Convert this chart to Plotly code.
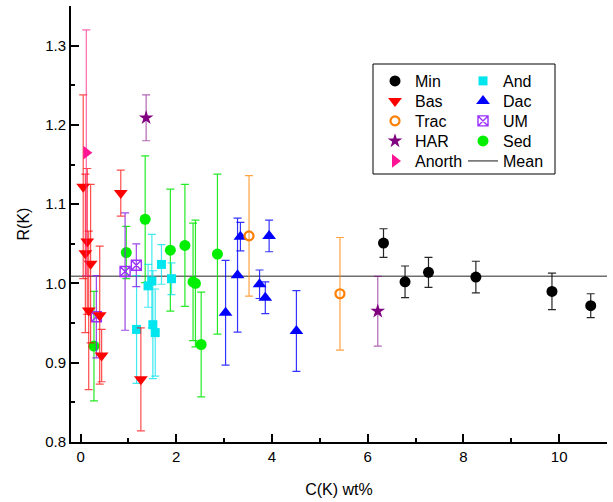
import plotly.graph_objects as go

# ---- data ----
min_x = [6.33, 6.78, 7.27, 8.26, 9.85, 10.66]
min_y = [1.051, 1.002, 1.014, 1.008, 0.990, 0.972]
min_e = [0.018, 0.020, 0.019, 0.020, 0.023, 0.015]

bas_x = [0.055, 0.14, 0.10, 0.21, 0.17, 0.40, 0.44, 0.84, 1.26]
bas_y = [1.122, 1.053, 1.038, 1.025, 0.966, 0.960, 0.909, 1.114, 0.879]
bas_e = [0.116, 0.092, 0.100, 0.100, 0.100, 0.087, 0.033, 0.029, 0.065]

trac_x = [3.52, 5.42]
trac_y = [1.060, 0.987]
trac_e = [0.076, 0.071]

har_x = [1.37, 6.21]
har_y = [1.209, 0.965]
har_e = [0.029, 0.044]

anorth_x = [0.12]
anorth_y = [1.165]
anorth_e = [0.155]

and_x = [1.17, 1.41, 1.49, 1.51, 1.56, 1.69, 1.90]
and_y = [0.942, 0.997, 1.003, 0.948, 0.938, 1.024, 1.006]
and_e = [0.068, 0.027, 0.059, 0.068, 0.055, 0.025, 0.020]

dac_x = [3.03, 3.28, 3.34, 3.74, 3.86, 3.94, 4.51]
dac_y = [0.963, 1.0105, 1.059, 0.999, 0.982, 1.060, 0.940]
dac_e = [0.066, 0.072, 0.018, 0.018, 0.020, 0.020, 0.051]

um_x = [0.33, 0.93, 1.165]
um_y = [0.958, 1.015, 1.023]
um_e = [0.052, 0.074, 0.027]

sed_x = [0.28, 0.955, 1.35, 1.876, 2.18, 2.35, 2.40, 2.52, 2.86]
sed_y = [0.921, 1.039, 1.081, 1.042, 1.048, 1.002, 1.000, 0.923, 1.037]
sed_e = [0.069, 0.033, 0.080, 0.077, 0.077, 0.074, 0.080, 0.066, 0.101]

mean_value = 1.009
x_range = [-0.2, 11]
y_range = [0.8, 1.35]

FONT = "Arial, Liberation Sans, sans-serif"
W, H = 613, 502
ML, MR, MT, MB = 71, 6, 6, 60
PW, PH = W - ML - MR, H - MT - MB


def px2x(px):
    return (px - ML) / PW


def px2y(py):
    return 1 - (py - MT) / PH


# legend layout: (column x px, row y px)
COLS = [375, 463]
ROWS = [81, 101, 121, 141, 161]
legend_slots = {
    "Min": (0, 0), "And": (1, 0),
    "Bas": (0, 1), "Dac": (1, 1),
    "Trac": (0, 2), "UM": (1, 2),
    "HAR": (0, 3), "Sed": (1, 3),
    "Anorth": (0, 4), "Mean": (1, 4),
}
legend_ids = {}
legend_layouts = {}
for i, (nm, (c, r)) in enumerate(legend_slots.items()):
    key = "legend" if i == 0 else f"legend{i + 1}"
    legend_ids[nm] = key
    legend_layouts[key] = dict(
        x=px2x(COLS[c]), xanchor="left", y=px2y(ROWS[r]), yanchor="middle",
        bgcolor="rgba(0,0,0,0)", borderwidth=0,
        font=dict(family=FONT, size=16, color="black"),
        itemwidth=30,
    )

fig = go.Figure()

# mean line (drawn first, below the points)
fig.add_trace(go.Scatter(
    x=x_range, y=[mean_value, mean_value], mode="lines", name="Mean",
    line=dict(color="#6e6e6e", width=1.6), legend=legend_ids["Mean"]))


def add(name, xs, ys, es, symbol, color, size, barcolor, line=None):
    marker = dict(symbol=symbol, color=color, size=size, line=line or dict(width=0))
    fig.add_trace(go.Scatter(
        x=xs, y=ys, mode="markers", name=name, marker=marker, legend=legend_ids[name],
        error_y=dict(type="data", array=es, visible=True, color=barcolor,
                     thickness=1.2, width=4)))


add("Sed", sed_x, sed_y, sed_e, "circle", "#00ee00", 11, "rgba(0,230,0,0.85)")
add("And", and_x, and_y, and_e, "square", "#00e5ee", 9, "rgba(0,225,235,0.75)")
add("Dac", dac_x, dac_y, dac_e, "triangle-up", "#0000ff", 12, "rgba(0,0,255,0.8)")
add("Trac", trac_x, trac_y, trac_e, "circle-open", "#ff7f00", 9, "rgba(255,140,20,0.8)",
    line=dict(width=2.2, color="#ff7f00"))
add("UM", um_x, um_y, um_e, "square-x-open", "#9b30ff", 10, "rgba(140,40,230,0.85)",
    line=dict(width=1.4, color="#9b30ff"))
add("Bas", bas_x, bas_y, bas_e, "triangle-down", "#ff0000", 12, "rgba(255,0,0,0.7)")
add("Anorth", anorth_x, anorth_y, anorth_e, "triangle-right", "#ff1493", 12, "rgba(255,40,140,0.7)")
add("HAR", har_x, har_y, har_e, "star", "#800080", 11, "rgba(128,0,128,0.6)")
add("Min", min_x, min_y, min_e, "circle", "#000000", 11, "rgba(0,0,0,0.85)")

axis_common = dict(
    showline=True, linecolor="black", linewidth=2, mirror=False,
    ticks="inside", ticklen=8, tickwidth=2, tickcolor="black",
    showgrid=False, zeroline=False,
    tickfont=dict(family=FONT, size=15, color="black"),
)

fig.update_xaxes(
    range=x_range, dtick=2, tick0=0,
    minor=dict(dtick=1, tick0=0, ticks="inside", ticklen=4, tickwidth=2, tickcolor="black"),
    title=dict(text="C(K) wt%", font=dict(family=FONT, size=16, color="black"), standoff=20),
    **axis_common)
fig.update_yaxes(
    range=y_range, dtick=0.1, tick0=0.8, tickformat=".1f",
    minor=dict(dtick=0.05, tick0=0.8, ticks="inside", ticklen=4, tickwidth=2, tickcolor="black"),
    title=dict(text="R(K)", font=dict(family=FONT, size=16, color="black"), standoff=12),
    **axis_common)

# legend frame
fig.add_shape(type="rect", xref="paper", yref="paper",
              x0=px2x(373), x1=px2x(555), y0=px2y(174), y1=px2y(64),
              line=dict(color="black", width=1), fillcolor="white", layer="below")

fig.update_layout(
    width=W, height=H,
    margin=dict(l=ML, r=MR, t=MT, b=MB),
    plot_bgcolor="white", paper_bgcolor="white",
    font=dict(family=FONT, size=15, color="black"),
    showlegend=True,
    **legend_layouts,
)

fig.write_html("out.html")
